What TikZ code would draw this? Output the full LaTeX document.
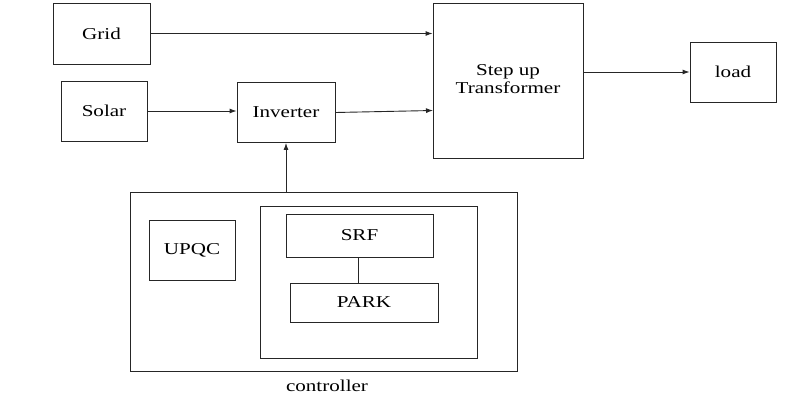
\documentclass[tikz,border=0pt]{standalone}
\usepackage{fontspec}
\setmainfont{Liberation Serif}
\usepackage{graphicx}
\usetikzlibrary{arrows.meta}
\newcommand{\wtxt}[1]{\scalebox{1.27}[1]{#1}}
\begin{document}
\begin{tikzpicture}[x=1pt,y=-1pt,
  box/.style={draw=black!85, line width=0.9pt, inner sep=0pt, align=center, font=\fontsize{16.6}{18}\selectfont},
  conn/.style={draw=black!85, line width=0.9pt},
  arr/.style={conn, -{Latex[length=7pt,width=5pt]}}]
\useasboundingbox[fill=white] (0,0) rectangle (791,411);
% top row
\node[box, minimum width=97pt, minimum height=61pt] (grid) at (101.5,33.5) {\wtxt{Grid}};
\node[box, minimum width=86pt, minimum height=60pt] (solar) at (104,111) {\wtxt{Solar}};
\node[box, minimum width=98pt, minimum height=60pt] (inv) at (286,112.5) {\wtxt{Inverter}};
\node[box, minimum width=150pt, minimum height=155pt] (tr) at (508,80.5) {\wtxt{\begin{tabular}{@{}c@{}}Step up\\Transformer\end{tabular}}};
\node[box, minimum width=86pt, minimum height=60pt] (load) at (733,72) {\wtxt{load}};
% controller
\node[box, minimum width=387pt, minimum height=179pt] (ctrl) at (323.5,281.5) {};
\node[box, minimum width=86pt, minimum height=60pt] (upqc) at (192,250) {\wtxt{UPQC}};
\node[box, minimum width=217pt, minimum height=152pt] (inner) at (368.5,282) {};
\node[box, minimum width=147pt, minimum height=43pt] (srf) at (359.5,235.5) {\wtxt{SRF}};
\node[box, minimum width=148pt, minimum height=39pt] (park) at (364,302.5) {\wtxt{PARK}};
\node[font=\fontsize{16.6}{18}\selectfont, inner sep=0pt, anchor=center] (clabel) at (327,386) {\wtxt{controller}};
% connectors
\draw[arr] (grid.east) -- (tr.west |- grid.east);
\draw[arr] (solar.east |- inv.west) ++(0,-1.5) coordinate (s1) -- (s1 -| inv.west);
\coordinate (tin) at (433,110.5);
\draw[arr] (inv.east) -- (tin);
\draw[arr] (tr.east |- load.west) -- (load.west);
\coordinate (c1) at (286,192);
\draw[arr] (c1) -- (c1 |- inv.south);
\draw[conn] (358,0 |- srf.south) -- (358,0 |- park.north);
\end{tikzpicture}
\end{document}
